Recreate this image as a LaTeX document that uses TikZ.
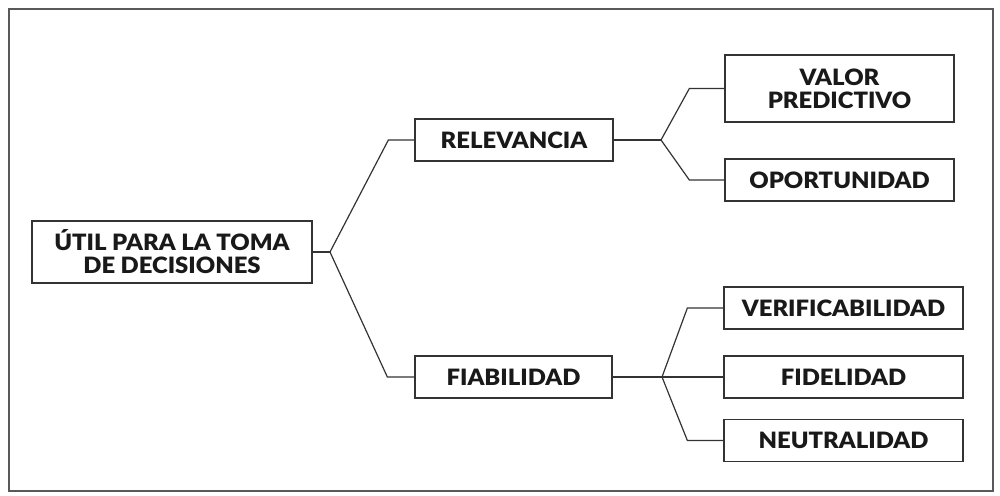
\documentclass[tikz,border=0pt]{standalone}
\usepackage{fontspec}
\setmainfont{Lato}[BoldFont={Lato Black}, BoldFeatures={FakeStretch=1.06}]
\begin{document}
\begin{tikzpicture}[x=1pt,y=-1pt,
  box/.style={draw=black!80, line width=1.3pt, fill=white, inner sep=0pt,
    align=center, text=black!90, font=\fontsize{22.5}{23}\selectfont\bfseries},
  link/.style={draw=black!80, line width=1.2pt}]
  \useasboundingbox (0,0) rectangle (1000,495);
  % outer frame
  \draw[black!65, line width=2pt] (9,9) rectangle (993,491);

  % boxes
  \node[box, minimum width=280pt, minimum height=62pt] (root) at (172,252)
    {ÚTIL PARA LA TOMA\\DE DECISIONES};
  \node[box, minimum width=198pt, minimum height=42pt] (rel) at (514,140) {RELEVANCIA};
  \node[box, minimum width=197pt, minimum height=42pt] (fia) at (513.5,377) {FIABILIDAD};
  \node[box, minimum width=229pt, minimum height=67pt] (val) at (839.5,88.5) {VALOR\\PREDICTIVO};
  \node[box, minimum width=229pt, minimum height=42pt] (opo) at (839.5,180) {OPORTUNIDAD};
  \node[box, minimum width=239pt, minimum height=42pt] (ver) at (843.5,308) {VERIFICABILIDAD};
  \node[box, minimum width=239pt, minimum height=42pt] (fid) at (843.5,377) {FIDELIDAD};
  \node[box, minimum width=239pt, minimum height=42pt] (neu) at (843.5,440.5) {NEUTRALIDAD};

  % branching points
  \coordinate (j0) at (330,252);
  \coordinate (j1) at (661,140);
  \coordinate (j2) at (662,377);

  % connectors
  \draw[link] (root.east) -- (j0);
  \draw[link] (j0) -- ([xshift=-26pt]rel.west) -- (rel.west);
  \draw[link] (j0) -- ([xshift=-27pt]fia.west) -- (fia.west);
  \draw[link] (rel.east) -- (j1);
  \draw[link] (j1) -- ([xshift=-35pt]val.west) -- (val.west);
  \draw[link] (j1) -- ([xshift=-35pt]opo.west) -- (opo.west);
  \draw[link] (fia.east) -- (j2);
  \draw[link] (j2) -- ([xshift=-36pt]ver.west) -- (ver.west);
  \draw[link] (j2) -- (fid.west);
  \draw[link] (j2) -- ([xshift=-36pt]neu.west) -- (neu.west);
\end{tikzpicture}
\end{document}
